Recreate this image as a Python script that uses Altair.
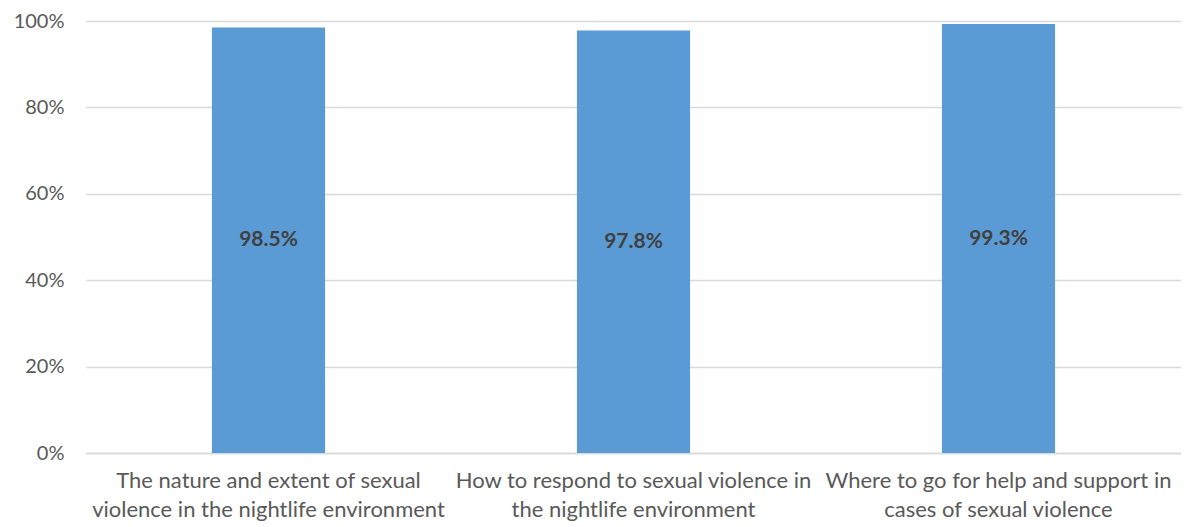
import altair as alt
import pandas as pd

categories = [
    "The nature and extent of sexual|violence in the nightlife environment",
    "How to respond to sexual violence in|the nightlife environment",
    "Where to go for help and support in|cases of sexual violence",
]
values = [0.985, 0.978, 0.993]
labels = ["98.5%", "97.8%", "99.3%"]

df = pd.DataFrame({"cat": categories, "val": values, "label": labels})
df["mid"] = df["val"] / 2

FONT = "Lato"

x = alt.X(
    "cat:N",
    sort=categories,
    title=None,
    scale=alt.Scale(paddingInner=0.69, paddingOuter=0.345),
    axis=alt.Axis(
        labelAngle=0,
        labelExpr="split(datum.label, '|')",
        labelFontSize=22,
        labelColor="#595959",
        labelFont=FONT,
        labelPadding=17,
        labelLineHeight=29,
        ticks=False,
        grid=False,
        domainColor="#D9D9D9",
        domainWidth=1.5,
        labelLimit=0,
    ),
)

bars = alt.Chart(df).mark_bar(color="#5B9BD5").encode(
    x=x,
    y=alt.Y(
        "val:Q",
        title=None,
        scale=alt.Scale(domain=[0, 1]),
        axis=alt.Axis(
            format="%",
            values=[0, 0.2, 0.4, 0.6, 0.8, 1.0],
            labelFontSize=20,
            labelColor="#595959",
            labelFont=FONT,
            labelPadding=22,
            ticks=False,
            domain=False,
            gridColor="#D9D9D9",
            gridWidth=1.5,
        ),
    ),
)

text = alt.Chart(df).mark_text(
    font=FONT, fontSize=21, fontWeight="bold", color="#404040"
).encode(
    x=alt.X("cat:N", sort=categories),
    y=alt.Y("mid:Q"),
    text="label:N",
)

chart = (
    alt.layer(bars, text)
    .properties(
        width=1095,
        height=432,
        autosize=alt.AutoSizeParams(type="none"),
        padding={"left": 78, "top": 13, "right": 0, "bottom": 68},
    )
    .configure(background="white")
    .configure_view(strokeWidth=0, stroke="transparent")
)

chart.save("out.html", embed_options={"renderer": "svg", "actions": False})
